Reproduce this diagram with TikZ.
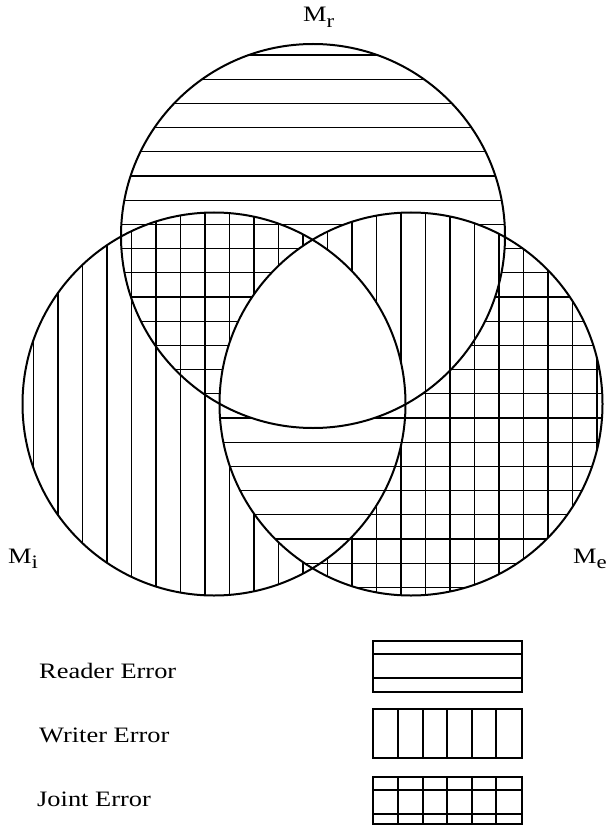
\documentclass[tikz,border=0pt]{standalone}
\usepackage{fontspec}
\setmainfont{Liberation Serif}
\usepackage{graphicx}
\newcommand\hstretch[1]{\scalebox{1.2}[1]{#1}}
\begin{document}
\begin{tikzpicture}[x=1pt,y=-1pt,
  hatch/.style={line width=1.35pt},
  rim/.style={line width=2pt},
  keybox/.style={line width=1.6pt},
  lbl/.style={inner sep=0pt,anchor=base west,font=\fontsize{22}{26}\selectfont}]
\fill[white] (0,0) rectangle (607,826);
\useasboundingbox (0,0) rectangle (607,826);
% circle centres
\coordinate (cR) at (313,236);
\coordinate (cL) at (214,404);
\coordinate (cE) at (411,404);
% horizontal hatching: R xor E
\begin{scope}[even odd rule]
  \clip (cR) circle[radius=192] (cE) circle[radius=191.5];
  \foreach \k in {0,...,23} \draw[hatch] (0,55+24.2*\k) -- (607,55+24.2*\k);
\end{scope}
% vertical hatching: L xor E
\begin{scope}[even odd rule]
  \clip (cL) circle[radius=191.5] (cE) circle[radius=191.5];
  \foreach \k in {-4,...,20} \draw[hatch] (107+24.5*\k,0) -- (107+24.5*\k,826);
\end{scope}
% outlines
\draw[rim] (cR) circle[radius=192];
\draw[rim] (cL) circle[radius=191.5];
\draw[rim] (cE) circle[radius=191.5];
% circle labels
\node[lbl] (Mr) at (303,22) {\hstretch{M\raisebox{-6pt}{\fontsize{19}{19}\selectfont r}}};
\node[lbl] (Mi) at (8,563) {\hstretch{M\raisebox{-5pt}{\fontsize{19}{19}\selectfont i}}};
\node[lbl] (Me) at (573,563) {\hstretch{M\raisebox{-5pt}{\fontsize{19}{19}\selectfont e}}};
% legend texts
\node[lbl] (reader) at (39,678) {\hstretch{Reader Error}};
\node[lbl] (writer) at (39,742) {\hstretch{Writer Error}};
\node[lbl] (joint) at (37,806) {\hstretch{Joint Error}};
% legend boxes
\draw[keybox] (373,641) rectangle (522,692);
\draw[keybox] (373,654) -- (522,654) (373,678) -- (522,678);
\draw[keybox] (373,709) rectangle (522,758);
\foreach \x in {398,423,447,472,496} \draw[keybox] (\x,709) -- (\x,758);
\draw[keybox] (373,777) rectangle (522,824);
\draw[keybox] (373,790) -- (522,790) (373,814) -- (522,814);
\foreach \x in {398,423,447,472,496} \draw[keybox] (\x,777) -- (\x,824);
\end{tikzpicture}
\end{document}
